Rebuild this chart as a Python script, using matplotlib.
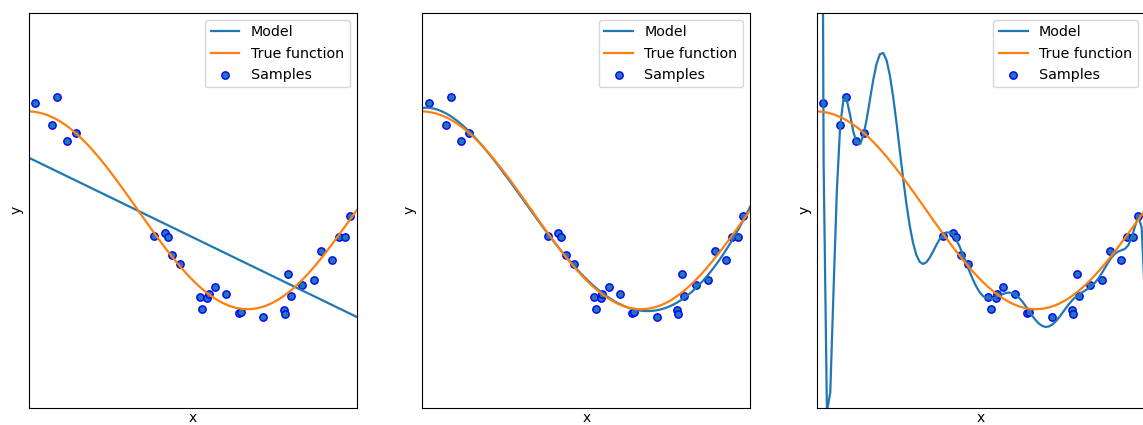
import numpy as np
import matplotlib
matplotlib.use("Agg")
import matplotlib.pyplot as plt

# samples
X = [0.019, 0.071, 0.087, 0.118, 0.143, 0.383, 0.415, 0.424, 0.438, 0.461,
     0.522, 0.529, 0.545, 0.549, 0.568, 0.603, 0.640, 0.646, 0.715, 0.778,
     0.781, 0.792, 0.799, 0.833, 0.870, 0.892, 0.926, 0.945, 0.964, 0.979]
y = [1.085, 0.866, 1.146, 0.700, 0.781, -0.262, -0.228, -0.272, -0.457, -0.542,
     -0.873, -1.001, -0.886, -0.842, -0.781, -0.846, -1.041, -1.031, -1.082, -1.008,
     -1.048, -0.646, -0.866, -0.761, -0.704, -0.414, -0.508, -0.275, -0.272, -0.059]

# true function, read at steps of 0.05
true_x = [0.00, 0.05, 0.10, 0.15, 0.20, 0.25, 0.30, 0.35, 0.40, 0.45, 0.50,
          0.55, 0.60, 0.65, 0.70, 0.75, 0.80, 0.85, 0.90, 0.95, 1.00]
true_y = [1.00, 0.97, 0.89, 0.76, 0.59, 0.38, 0.16, -0.08, -0.31, -0.52, -0.71,
          -0.85, -0.95, -1.00, -0.99, -0.92, -0.81, -0.65, -0.45, -0.23, 0.00]

degrees = [1, 4, 15]

X = np.array(X)
y = np.array(y)
X_test = np.linspace(0, 1, 100)

# smooth curve through the read points of the true function
true_curve = np.polynomial.Polynomial.fit(true_x, true_y, 8)

fig = plt.figure(figsize=(11.43, 4.25), dpi=100)
lefts = [28.7, 422.3, 817.0]

for i, deg in enumerate(degrees):
    ax = fig.add_axes([lefts[i] / 1143, 17 / 425, 328 / 1143, 395.5 / 425])
    p = np.polynomial.Polynomial.fit(X, y, deg)
    ax.plot(X_test, p(X_test), label="Model", lw=1.6)
    ax.plot(X_test, true_curve(X_test), label="True function", lw=1.6)
    ax.scatter(X, y, edgecolor='b', s=28, label="Samples")
    ax.set_xlabel("x", labelpad=2)
    ax.set_ylabel("y")
    ax.set_xlim((0, 1))
    ax.set_ylim((-2, 2))
    ax.set_xticks(())
    ax.set_yticks(())
    ax.legend(loc="upper right", fontsize=10.3)

fig.savefig("out.png", dpi=100)
